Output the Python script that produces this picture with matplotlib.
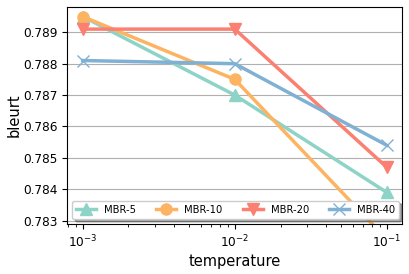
import matplotlib
matplotlib.use("Agg")
import matplotlib.pyplot as plt

temperatures = [0.001, 0.01, 0.1]
mbr5 = [0.7895, 0.7870, 0.7839]
mbr10 = [0.7895, 0.7875, 0.7824]
mbr20 = [0.7891, 0.7891, 0.7847]
mbr40 = [0.7881, 0.7880, 0.7854]
labels = ["MBR-5", "MBR-10", "MBR-20", "MBR-40"]
colors = ["#8dd3c7", "#fdb462", "#fb8072", "#80b1d3"]
markers = ["^", "o", "v", "x"]

fig = plt.figure(figsize=(4.09, 2.74), dpi=100)
ax = fig.add_axes([0.165, 0.1825, 0.818, 0.791])
for vals, lab, c, m in zip([mbr5, mbr10, mbr20, mbr40], labels, colors, markers):
    ax.plot(temperatures, vals, color=c, marker=m, label=lab, linewidth=2.5, markersize=8)
ax.set_xscale("log")
ax.set_xlim(10**-3.1, 10**-0.9)
ax.set_ylim(0.782895, 0.789796)
ax.set_yticks([0.783, 0.784, 0.785, 0.786, 0.787, 0.788, 0.789])
ax.yaxis.grid(True, color="#b0b0b0", linewidth=0.8)
ax.set_axisbelow(True)
ax.set_xlabel("temperature", fontsize=10.5, labelpad=3)
ax.set_ylabel("bleurt", fontsize=10.5, labelpad=1.5)
ax.tick_params(labelsize=8.7)
ax.legend(ncol=4, loc="lower left", fontsize=7.2, shadow=True)
fig.savefig("out.png", dpi=100)
